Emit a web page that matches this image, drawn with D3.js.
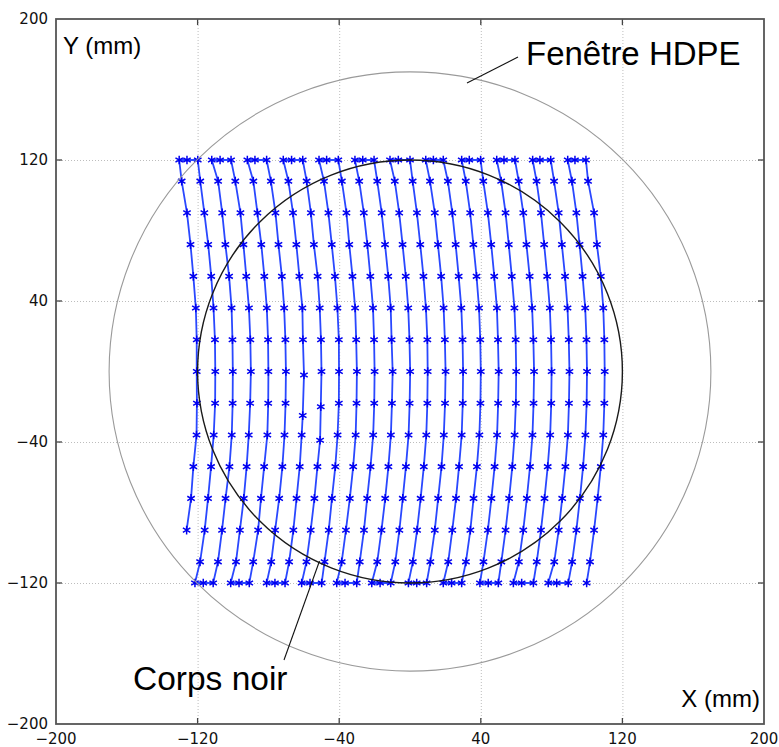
<!DOCTYPE html>
<html><head><meta charset="utf-8">
<script src="https://cdn.jsdelivr.net/npm/d3@7"></script>
<style>body{margin:0;background:#fff}</style>
</head><body>
<svg id="c" width="779" height="747"></svg>
<script>
// ---- data ----
const tickValues = [-200, -120, -40, 40, 120, 200];
const circles = [{name: "Fenêtre HDPE", r: 170}, {name: "Corps noir", r: 120}];
const rowY = [108, 90, 72, 54, 36, 18, 0, -18, -36, -54, -72, -90, -108];
const edgeY = 120;
const colX = [
  [-129.0, -126.0, -124.0, -122.4, -121.0, -120.5, -120.5, -120.4, -120.6, -122.4, -123.7, -126.2],
  [-118.5, -116.2, -114.0, -112.3, -111.0, -110.2, -110.0, -110.1, -110.9, -112.4, -114.1, -116.0, -118.6],
  [-108.4, -106.1, -104.3, -102.2, -100.8, -100.3, -100.1, -100.2, -100.7, -102.0, -104.2, -106.2, -108.5],
  [-98.7, -95.8, -94.1, -92.5, -91.0, -90.2, -89.9, -90.3, -91.1, -92.3, -93.9, -96.1, -98.3],
  [-88.5, -86.2, -84.0, -82.3, -80.9, -80.2, -80.0, -80.1, -80.6, -82.4, -84.2, -85.8, -88.6],
  [-78.6, -76.0, -74.3, -72.4, -71.1, -70.4, -70.1, -70.3, -70.9, -72.1, -73.9, -76.2, -78.4],
  [-68.7, -66.1, -64.2, -62.5, -60.8, -60.5, -59.9, -60.6, -61.2, -62.3, -64.1, -65.9, -68.3],
  [-58.4, -56.0, -54.3, -52.2, -51.0, -50.3, -50.0, -50.4, -50.8, -52.3, -54.0, -56.1, -58.5],
  [-48.6, -46.1, -44.2, -42.4, -41.0, -40.2, -40.1, -40.2, -40.9, -42.2, -44.1, -45.9, -48.3],
  [-38.5, -35.9, -34.3, -32.5, -31.0, -30.4, -30.0, -30.2, -30.7, -32.1, -34.0, -36.2, -38.6],
  [-28.7, -26.1, -24.1, -22.4, -20.9, -20.3, -20.0, -20.2, -20.8, -22.3, -24.2, -26.0, -28.4],
  [-18.5, -16.0, -14.1, -12.3, -10.9, -10.4, -9.8, -10.2, -10.8, -12.2, -14.0, -16.1, -18.5],
  [-8.6, -6.1, -4.2, -2.4, -1.0, -0.3, 0.1, -0.2, -0.8, -2.3, -4.1, -6.0, -8.3],
  [1.5, 3.9, 5.8, 7.6, 9.0, 9.8, 10.0, 9.8, 9.2, 7.8, 6.0, 4.0, 1.6],
  [11.3, 14.0, 15.8, 17.6, 19.0, 19.7, 20.1, 19.8, 19.1, 17.8, 15.9, 14.0, 11.5],
  [21.4, 23.9, 25.8, 27.5, 29.0, 29.7, 30.0, 29.8, 29.2, 27.7, 26.0, 23.9, 21.6],
  [31.5, 34.0, 35.8, 37.6, 39.0, 39.7, 40.0, 39.8, 39.2, 37.8, 35.9, 34.1, 31.6],
  [41.4, 44.0, 45.9, 47.6, 49.1, 49.7, 50.1, 49.8, 49.2, 47.8, 46.0, 44.0, 41.5],
  [51.5, 54.0, 55.8, 57.5, 59.0, 59.7, 60.0, 59.8, 59.1, 57.8, 56.0, 54.0, 51.6],
  [61.4, 64.0, 65.8, 67.6, 69.0, 69.7, 70.1, 69.8, 69.2, 67.8, 66.0, 64.0, 61.5],
  [71.5, 74.0, 75.8, 77.5, 79.0, 79.7, 80.0, 79.8, 79.2, 77.8, 76.0, 74.0, 71.6],
  [81.4, 84.0, 85.8, 87.6, 89.0, 89.7, 90.1, 89.8, 89.2, 87.8, 86.0, 84.0, 81.5],
  [91.5, 94.0, 95.8, 97.5, 99.0, 99.7, 100.0, 99.8, 99.1, 97.8, 96.0, 94.0, 91.6],
  [100.6, 104.0, 105.6, 107.8, 109.2, 109.8, 110.0, 109.8, 109.2, 107.8, 106.0, 104.0, 101.7]
];
const yOverrides = [
  {col: 6, row: 6, y: -2}, {col: 6, row: 7, y: -25},
  {col: 7, row: 7, y: -20}, {col: 7, row: 8, y: -39}
];
const topClusters = [
  [-130.4, -126.0, -119.9], [-112.0, -107.3, -101.1], [-91.9, -87.6, -81.0],
  [-71.6, -66.9, -60.6], [-51.4, -47.1, -40.5], [-31.1, -26.7, -20.3],
  [-11.3, -6.6, 0.0], [8.9, 13.2, 18.8], [29.2, 33.5, 39.9],
  [49.0, 53.1, 59.3], [69.3, 73.4, 79.5], [89.1, 93.2, 99.4]
];
const bottomClusters = [
  [-121.5, -116.8, -111.2], [-101.3, -96.6, -90.8], [-81.0, -76.3, -70.6],
  [-61.2, -56.5, -49.9], [-41.4, -36.7, -30.1], [-21.6, -16.9, -10.9],
  [-0.9, 3.8, 9.4], [18.8, 23.5, 29.2], [39.5, 44.2, 49.9],
  [58.4, 63.1, 69.7], [78.1, 82.9, 89.4], [99.8]
];

// ---- layout ----
const L = 56, R = 764, T = 19, B = 724;
const x = d3.scaleLinear().domain([-200, 200]).range([L, R]);
const y = d3.scaleLinear().domain([-200, 200]).range([B, T]);
const svg = d3.select("#c");

// grid
const inner = tickValues.filter(v => v > -200 && v < 200);
const grid = svg.append("g").attr("stroke", "#bdbdbd").attr("stroke-width", 1).attr("stroke-dasharray", "1,2");
grid.selectAll(".gx").data(inner).join("line")
  .attr("x1", d => x(d) + 0.5).attr("x2", d => x(d) + 0.5).attr("y1", T).attr("y2", B);
grid.selectAll(".gy").data(inner).join("line")
  .attr("y1", d => y(d) + 0.5).attr("y2", d => y(d) + 0.5).attr("x1", L).attr("x2", R);

// build path
const pts = [];
colX.forEach((xs, c) => {
  let p = xs.map((v, i) => {
    const o = yOverrides.find(e => e.col === c && e.row === i);
    return [v, o ? o.y : rowY[i]];
  });
  if (c % 2 === 0) {
    p = p.reverse();
    pts.push(...p);
    topClusters[c / 2].forEach(v => pts.push([v, edgeY]));
  } else {
    pts.push(...p);
    bottomClusters[(c - 1) / 2].forEach(v => pts.push([v, -edgeY]));
  }
});

const line = d3.line().x(d => x(d[0])).y(d => y(d[1]));
svg.append("path").datum(pts).attr("d", line)
  .attr("fill", "none").attr("stroke", "#2a48ff").attr("stroke-width", 1.8).attr("stroke-linejoin", "round");

const star = d3.symbol().type(d3.symbolAsterisk).size(52);
svg.append("g").selectAll("path").data(pts).join("path")
  .attr("d", star).attr("transform", d => `translate(${x(d[0])},${y(d[1])})`)
  .attr("fill", "none").attr("stroke", "#0000f0").attr("stroke-width", 1.5);

// circles
svg.append("g").selectAll("ellipse").data(circles).join("ellipse")
  .attr("cx", x(0)).attr("cy", y(0))
  .attr("rx", d => x(d.r) - x(0)).attr("ry", d => y(0) - y(d.r))
  .attr("fill", "none")
  .attr("stroke", (d, i) => i === 0 ? "#9a9a9a" : "#1a1a1a")
  .attr("stroke-width", (d, i) => i === 0 ? 1.1 : 1.4);

// annotations
svg.append("line").attr("x1", 467).attr("y1", 83).attr("x2", 518).attr("y2", 57)
  .attr("stroke", "#111").attr("stroke-width", 1.1);
svg.append("text").attr("x", 526).attr("y", 65).text(circles[0].name)
  .attr("font-family", "Liberation Sans, Arial, sans-serif").attr("font-size", 33).attr("fill", "#000");
svg.append("line").attr("x1", 284).attr("y1", 660).attr("x2", 319.5).attr("y2", 561)
  .attr("stroke", "#111").attr("stroke-width", 1.1);
svg.append("text").attr("x", 133).attr("y", 690).text(circles[1].name)
  .attr("font-family", "Liberation Sans, Arial, sans-serif").attr("font-size", 33.5).attr("fill", "#000");

// axis labels
svg.append("text").attr("x", 63).attr("y", 54).text("Y (mm)")
  .attr("font-family", "Liberation Sans, Arial, sans-serif").attr("font-size", 24);
svg.append("text").attr("x", 760).attr("y", 707).attr("text-anchor", "end").text("X (mm)")
  .attr("font-family", "Liberation Sans, Arial, sans-serif").attr("font-size", 24);

// ticks (inward) and labels
const tk = svg.append("g").attr("stroke", "#444").attr("stroke-width", 1.3);
inner.forEach(v => {
  tk.append("line").attr("x1", x(v)).attr("x2", x(v)).attr("y1", T).attr("y2", T + 6);
  tk.append("line").attr("x1", x(v)).attr("x2", x(v)).attr("y1", B).attr("y2", B - 6);
  tk.append("line").attr("y1", y(v)).attr("y2", y(v)).attr("x1", L).attr("x2", L + 6);
  tk.append("line").attr("y1", y(v)).attr("y2", y(v)).attr("x1", R).attr("x2", R - 6);
});
const lab = svg.append("g").attr("font-family", "DejaVu Sans, sans-serif").attr("font-size", 15).attr("fill", "#111");
lab.selectAll(".xl").data(tickValues).join("text")
  .attr("x", d => x(d)).attr("y", B + 20).attr("text-anchor", "middle")
  .text(d => d3.format("d")(d));
lab.selectAll(".yl").data(tickValues).join("text")
  .attr("x", L - 8).attr("y", d => y(d)).attr("dy", "0.35em").attr("text-anchor", "end")
  .text(d => d3.format("d")(d));

// frame
svg.append("rect").attr("x", L).attr("y", T).attr("width", R - L).attr("height", B - T)
  .attr("fill", "none").attr("stroke", "#555").attr("stroke-width", 1.8);
</script>
</body></html>
